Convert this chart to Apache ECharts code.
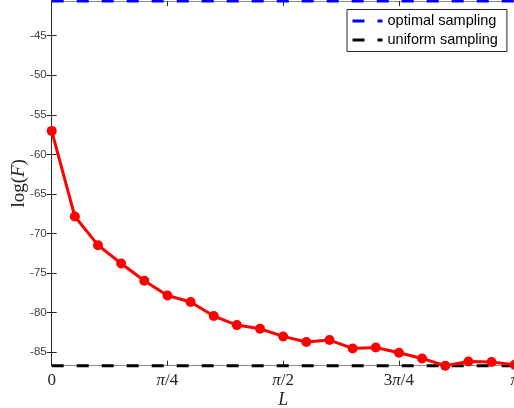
<!DOCTYPE html>
<html><head><meta charset="utf-8">
<script src="https://cdn.jsdelivr.net/npm/echarts@6/dist/echarts.min.js"></script>
<style>html,body{margin:0;padding:0;background:#fff;overflow:hidden}#c{width:514px;height:408px}</style>
</head><body><div id="c"></div>
<script>
// L in units of pi/4 (0 .. pi)
const L = [0, 0.2, 0.4, 0.6, 0.8, 1.0, 1.2, 1.4, 1.6, 1.8, 2.0, 2.2, 2.4, 2.6, 2.8, 3.0, 3.2, 3.4, 3.6, 3.8, 4.0];
const logF = [-57.03, -67.85, -71.47, -73.79, -75.97, -77.83, -78.66, -80.43, -81.57, -82.03, -83.0, -83.71, -83.46, -84.52, -84.39, -85.06, -85.78, -86.7, -86.16, -86.24, -86.58];
const optimalLevel = -40.62;
const uniformLevel = -86.7;
const seriesNames = ['optimal sampling', 'uniform sampling'];
const xTickValues = [0, 1, 2, 3, 4];
const xTickLabels = ['0', 'π/4', 'π/2', '3π/4', 'π'];
const yTickValues = [-85, -80, -75, -70, -65, -60, -55, -50, -45];
const xRange = [0, 4];
const yRange = [-86.7, -40.62];

const chart = echarts.init(document.getElementById('c'), null, {renderer: 'canvas'});
const serif = 'Liberation Serif';
const sans = 'Liberation Sans';
function fmtX(v) {
  const i = xTickValues.indexOf(Math.round(v));
  if (i < 0) return '';
  return xTickLabels[i].replace('π', '{i|π}');
}
const option = {
  animation: false,
  backgroundColor: '#fff',
  grid: {left: 51.7, top: 1, width: 463, height: 364.7, containLabel: false, outerBoundsMode: 'none'},
  legend: {
    orient: 'vertical', left: 347, top: 9.5,
    data: seriesNames,
    itemWidth: 30, itemHeight: 14, itemGap: 4,
    padding: [4, 9, 4, 4],
    backgroundColor: '#fff', borderColor: '#262626', borderWidth: 1, borderRadius: 0,
    textStyle: {fontFamily: sans, fontSize: 14.5, color: '#000'},
    itemStyle: {opacity: 0},
    lineStyle: {width: 3},
    selectedMode: false
  },
  xAxis: [{
    type: 'value', min: xRange[0], max: xRange[1], position: 'bottom',
    name: 'L', nameLocation: 'middle', nameGap: 26, nameMoveOverlap: false,
    nameTextStyle: {fontFamily: serif, fontStyle: 'italic', fontSize: 18, color: '#262626'},
    axisLine: {show: true, lineStyle: {color: '#8c8c8c', width: 1}},
    axisTick: {show: true, inside: true, length: 5, customValues: xTickValues, lineStyle: {color: '#262626'}},
    axisLabel: {customValues: xTickValues, formatter: fmtX, margin: 6,
      fontFamily: serif, fontSize: 17, color: '#262626',
      rich: {i: {fontFamily: serif, fontStyle: 'italic', fontSize: 17, color: '#262626'}}},
    splitLine: {show: false}
  }, {
    type: 'value', min: xRange[0], max: xRange[1], position: 'top',
    axisLine: {show: true, lineStyle: {color: '#8c8c8c', width: 1}},
    axisTick: {show: true, inside: true, length: 5, customValues: xTickValues, lineStyle: {color: '#262626'}},
    axisLabel: {show: false}, splitLine: {show: false}
  }],
  yAxis: [{
    type: 'value', min: yRange[0], max: yRange[1], position: 'left',
    name: '{r|log(}{i|F}{r|)}', nameLocation: 'middle', nameGap: 23, nameRotate: 90, nameMoveOverlap: false,
    nameTextStyle: {rich: {
      r: {fontFamily: serif, fontSize: 19, color: '#262626'},
      i: {fontFamily: serif, fontStyle: 'italic', fontSize: 19, color: '#262626'}}},
    axisLine: {show: true, lineStyle: {color: '#262626', width: 1}},
    axisTick: {show: true, inside: true, length: 5, customValues: yTickValues, lineStyle: {color: '#262626'}},
    axisLabel: {customValues: yTickValues, margin: 5, fontFamily: sans, fontSize: 11.5, color: '#404040'},
    splitLine: {show: false}
  }, {
    type: 'value', min: yRange[0], max: yRange[1], position: 'right',
    axisLine: {show: true, lineStyle: {color: '#262626', width: 1}},
    axisTick: {show: true, inside: true, length: 5, customValues: yTickValues, lineStyle: {color: '#262626'}},
    axisLabel: {show: false}, splitLine: {show: false}
  }],
  series: [{
    name: seriesNames[0], type: 'line', symbol: 'none', clip: false,
    data: [[xRange[0], optimalLevel], [xRange[1], optimalLevel]],
    lineStyle: {color: '#0000ff', width: 3, type: [12, 13]}, itemStyle: {color: '#0000ff'}, z: 3
  }, {
    name: seriesNames[1], type: 'line', symbol: 'none', clip: false,
    data: [[xRange[0], uniformLevel], [xRange[1], uniformLevel]],
    lineStyle: {color: '#000000', width: 3, type: [12, 13]}, itemStyle: {color: '#000000'}, z: 3
  }, {
    name: 'logF', type: 'line', clip: false,
    data: L.map((x, i) => [x, logF[i]]),
    symbol: 'circle', symbolSize: 10,
    lineStyle: {color: '#ff0000', width: 3}, itemStyle: {color: '#ff0000'}, z: 4
  }]
};
chart.setOption(option);
</script></body></html>
